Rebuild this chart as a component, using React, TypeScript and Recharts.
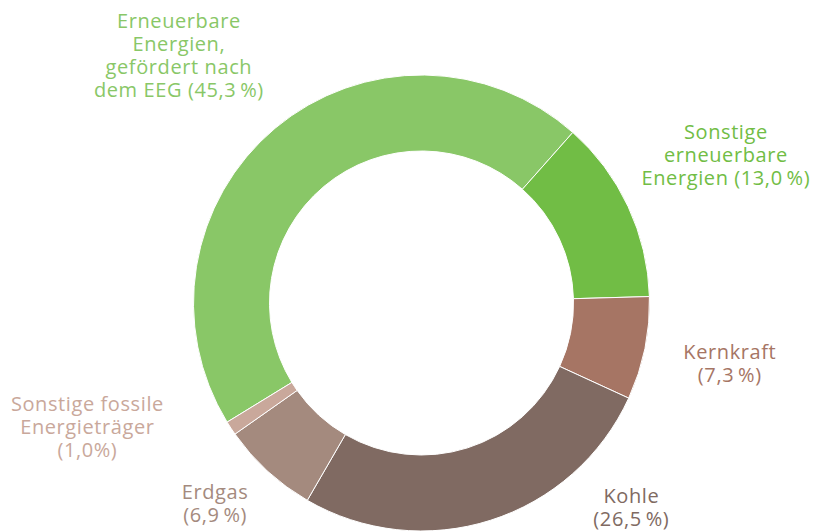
import { Cell, Pie, PieChart } from "recharts";

const categories = [
  "Erneuerbare Energien, gefördert nach dem EEG",
  "Sonstige erneuerbare Energien",
  "Kernkraft",
  "Kohle",
  "Erdgas",
  "Sonstige fossile Energieträger",
];

const shares = [45.3, 13.0, 7.3, 26.5, 6.9, 1.0];

// label text as it is broken in the picture
const labelLines = [
  ["Erneuerbare", "Energien,", "gefördert nach", "dem EEG (45,3\u2009%)"],
  ["Sonstige", "erneuerbare", "Energien (13,0\u2009%)"],
  ["Kernkraft", "(7,3\u2009%)"],
  ["Kohle", "(26,5\u2009%)"],
  ["Erdgas", "(6,9\u2009%)"],
  ["Sonstige fossile", "Energieträger", "(1,0%)"],
];

const sliceColors = ["#89c767", "#71bd45", "#a67564", "#806a62", "#a48a7e", "#c9a89b"];

// nudge of each label away from the slice middle: angle shift (deg), extra radius (px)
const labelNudge: [number, number][] = [
  [4.4, 119],
  [1.1, 111],
  [0.6, 86],
  [28.3, 64],
  [-3.5, 59],
  [-13.1, 128],
];

const RAD = Math.PI / 180;
const LINE_H = 23;

const data = categories.map((name, i) => ({ name, value: shares[i] }));

function renderLabel(props: any) {
  const { cx, cy, midAngle, outerRadius, index } = props;
  const [shift, extra] = labelNudge[index];
  const a = (midAngle + shift) * RAD;
  const r = outerRadius + extra;
  const x = cx + r * Math.cos(a);
  const y = cy - r * Math.sin(a);
  const lines = labelLines[index];
  const top = y - ((lines.length - 1) * LINE_H) / 2;
  return (
    <text
      key={`lbl-${index}`}
      x={x}
      y={top}
      fill={sliceColors[index]}
      textAnchor="middle"
      dominantBaseline="central"
      fontSize={20}
      letterSpacing={0.6}
      fontFamily="'Open Sans', sans-serif"
    >
      {lines.map((t, j) => (
        <tspan key={j} x={x} y={top + j * LINE_H}>
          {t}
        </tspan>
      ))}
    </text>
  );
}

export default function App() {
  return (
    <div style={{ position: "absolute", left: 0, top: 0, width: 825, height: 531, background: "#fff" }}>
      <PieChart width={825} height={531} margin={{ top: 0, right: 0, bottom: 0, left: 0 }}>
        <Pie
          data={data}
          dataKey="value"
          nameKey="name"
          cx={421.5}
          cy={303}
          innerRadius={152}
          outerRadius={228}
          startAngle={211.5}
          endAngle={-148.5}
          stroke="#fff"
          strokeWidth={1}
          label={renderLabel}
          labelLine={false}
          isAnimationActive={false}
        >
          {data.map((d, i) => (
            <Cell key={d.name} fill={sliceColors[i]} />
          ))}
        </Pie>
      </PieChart>
    </div>
  );
}
